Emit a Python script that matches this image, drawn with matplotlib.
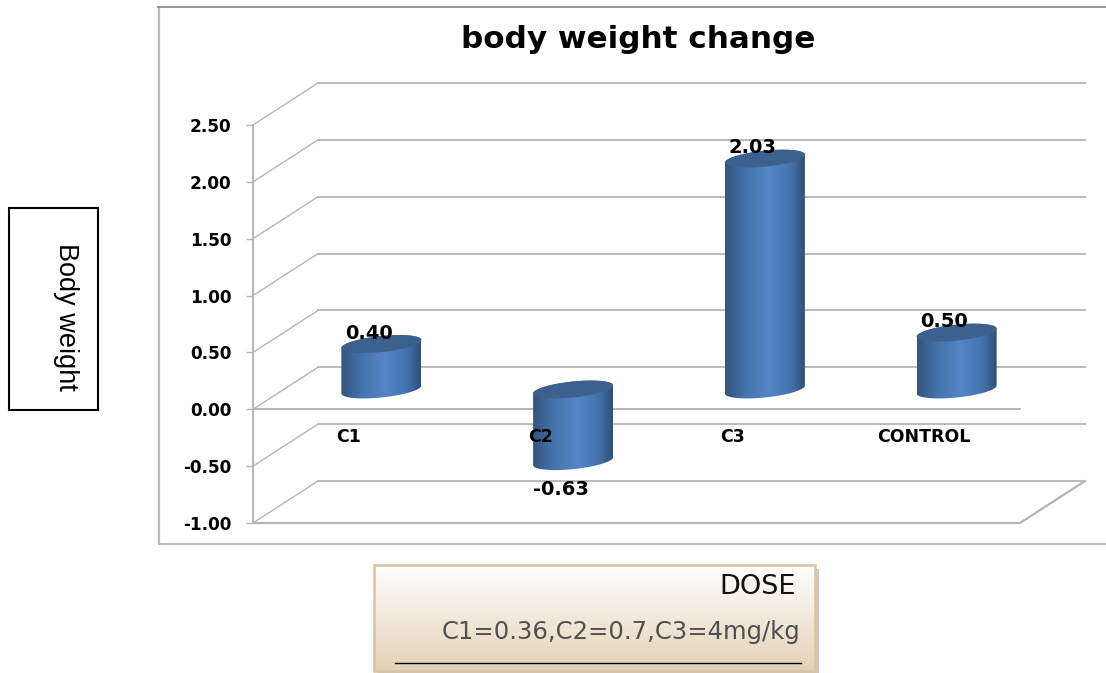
import numpy as np
import matplotlib
matplotlib.use('Agg')
import matplotlib.pyplot as plt
from matplotlib.patches import Rectangle, Polygon

categories = ['C1', 'C2', 'C3', 'CONTROL']
values = [0.40, -0.63, 2.03, 0.50]
value_labels = ['0.40', '-0.63', '2.03', '0.50']
y_ticks = [-1.0, -0.5, 0.0, 0.5, 1.0, 1.5, 2.0, 2.5]

GRID = '#b5b5b5'
FRAME = '#a6a6a6'

W, H = 1106, 673
# depth of the fake 3d box, in data units (65 px right, 42 px up)
DX = 65 / 191.75
DY = 42 / 113.7
BAR_A = 40 / 191.75
BAR_B = 8 / 113.7
BAR_TILT = 4 / 113.7
BASE = DY / 2 - 1.2 / 113.7

fig = plt.figure(figsize=(W / 100, H / 100), dpi=100, facecolor='white')

# pixel layer for frame and boxes
bg = fig.add_axes([0, 0, 1, 1], zorder=0)
bg.set_xlim(0, W)
bg.set_ylim(H, 0)
bg.axis('off')

bg.plot([159, 159], [7, 544], color='#b8b8b8', lw=1.6)
bg.plot([159, W], [544, 544], color='#b8b8b8', lw=1.4)
bg.plot([158, W], [7, 7], color='#8c8c8c', lw=1.3)

bg.add_patch(Rectangle((9, 208), 89, 202, fc='white', ec='black', lw=1.5))
bg.text(65.5, 317, 'Body weight', rotation=270, ha='center', va='center',
        fontsize=19.5, family='Liberation Sans', color='black')

# dose box with shadow and vertical gradient
bg.add_patch(Rectangle((378, 569), 441, 104, fc='#c9c9c9', ec='none'))
grad = np.linspace(0, 1, 100)[:, None, None]
top = np.array([1.0, 1.0, 1.0])
bottom = np.array([0.895, 0.82, 0.72])
bg.imshow(top + (bottom - top) * grad, extent=[374, 815, 671, 565], aspect='auto', zorder=2)
bg.add_patch(Rectangle((374, 565), 441, 106, fc='none', ec='#d8c3a3', lw=1.8, zorder=3))
bg.plot([395, 801], [663, 663], color='black', lw=1.0, zorder=3)
bg.text(796, 587, 'DOSE', ha='right', va='center', fontsize=19.5, color='#111111', zorder=3)
bg.text(800, 632, 'C1=0.36,C2=0.7,C3=4mg/kg', ha='right', va='center',
        fontsize=17.5, color='#505050', zorder=3)
bg.set_xlim(0, W)
bg.set_ylim(H, 0)

bg.text(638, 39, 'body weight change', ha='center', va='center',
        fontsize=22.3, fontweight='bold', color='black')

# chart axes: front plane of the box
ax = fig.add_axes([253 / W, 1 - 523 / H, (1020 - 253) / W, (523 - 125) / H], zorder=1)
ax.patch.set_alpha(0)
ax.set_xlim(0, 4)
ax.set_ylim(-1.0, 2.5)
for s in ax.spines.values():
    s.set_visible(False)
ax.spines['left'].set_visible(True)
ax.spines['left'].set_color(GRID)
ax.spines['left'].set_linewidth(1.4)

ax.set_yticks(y_ticks)
ax.set_yticklabels([f'{v:.2f}' for v in y_ticks], fontsize=12.2, fontweight='bold')
ax.tick_params(axis='y', length=5, width=1.0, color=GRID, pad=10.5)
ax.set_xticks([])

# walls
for v in y_ticks:
    ax.plot([0, DX], [v, v + DY], color=GRID, lw=1.0, clip_on=False, zorder=1)
    ax.plot([DX, 4 + DX], [v + DY, v + DY], color=GRID, lw=1.3, clip_on=False, zorder=1)
ax.plot([0, 4, 4 + DX], [-1, -1, -1 + DY], color=GRID, lw=1.6, clip_on=False, zorder=1)
ax.plot([0, 4], [0, 0], color=GRID, lw=1.4, clip_on=False, zorder=1)


def arc(cx, cy, t):
    return np.column_stack([cx + BAR_A * np.cos(t), cy + BAR_B * np.sin(t) + BAR_TILT * np.cos(t)])


# bar colours across the cylinder
stops = np.array([[0.20, 0.33, 0.50], [0.27, 0.45, 0.67], [0.33, 0.52, 0.77],
                  [0.27, 0.45, 0.68], [0.19, 0.31, 0.46]])
xs = np.linspace(0, 1, 200)
ramp = np.stack([np.interp(xs, [0, 0.25, 0.55, 0.82, 1], stops[:, i]) for i in range(3)], axis=1)[None, :, :]

for i, (cat, v, lab) in enumerate(zip(categories, values, value_labels)):
    cx = i + 0.5 + DX / 2
    lo = min(v, 0) + BASE
    hi = max(v, 0) + BASE
    t_low = np.linspace(np.pi, 2 * np.pi, 60)
    t_up = np.linspace(0, np.pi, 60)
    body = np.vstack([arc(cx, lo, t_low), arc(cx, hi, t_up)])
    poly = Polygon(body, closed=True, fc='none', ec='none', transform=ax.transData)
    ax.add_patch(poly)
    im = ax.imshow(ramp, extent=[cx - BAR_A, cx + BAR_A, lo - 0.2, hi + 0.2],
                   aspect='auto', zorder=3, interpolation='bilinear')
    im.set_clip_path(poly)
    ax.add_patch(Polygon(arc(cx, hi, np.linspace(0, 2 * np.pi, 120)), closed=True,
                         fc='#3c618f', ec='none', zorder=4))
    ax.text(i + 0.5, -0.246, cat, ha='center', va='center', fontsize=12.5,
            fontweight='bold', zorder=6)
    tx = i + 0.5 + 20 / 191.75
    if v >= 0:
        ax.text(tx, v + BASE + 0.095, lab, ha='center', va='center',
                fontsize=14, fontweight='bold', zorder=6)
    else:
        ax.text(tx, v + BASE - 0.25, lab, ha='center', va='center',
                fontsize=14, fontweight='bold', zorder=6)

ax.set_xlim(0, 4)
ax.set_ylim(-1.0, 2.5)
ax.set_aspect('auto')

fig.savefig('out.png', dpi=100, facecolor='white')
plt.close()
